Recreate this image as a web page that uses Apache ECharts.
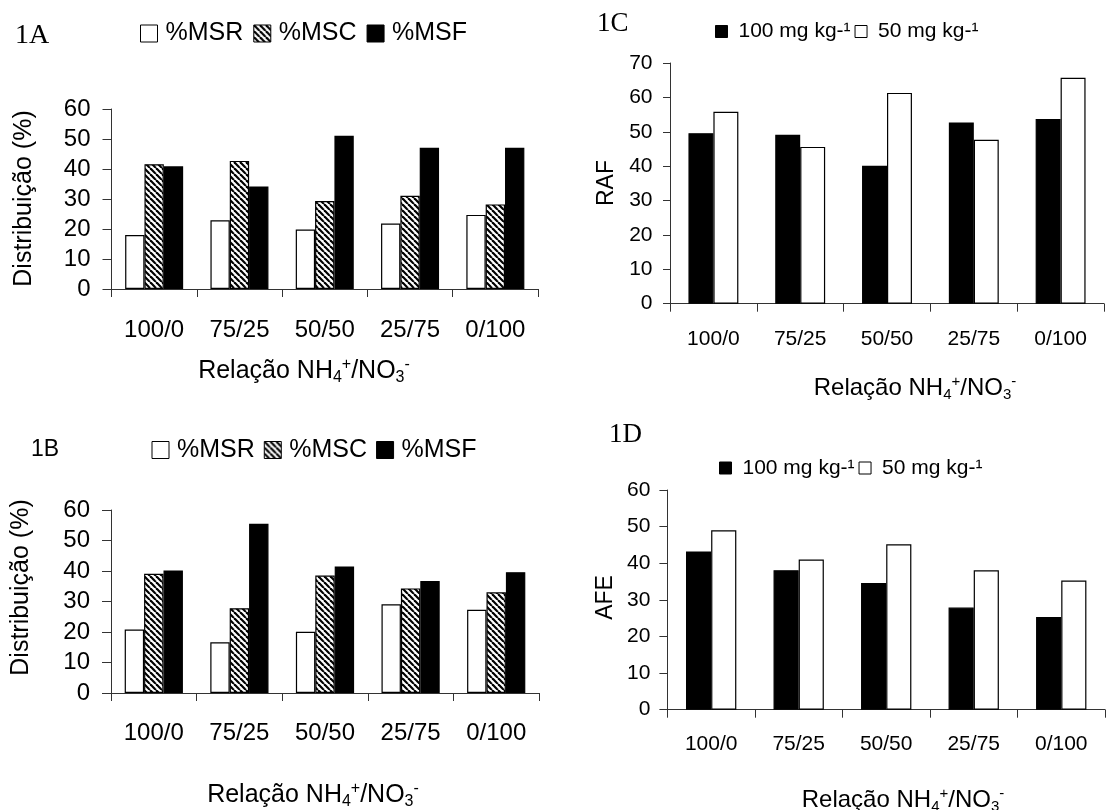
<!DOCTYPE html>
<html><head><meta charset="utf-8">
<script src="https://cdn.jsdelivr.net/npm/echarts@6/dist/echarts.min.js"></script>
<style>html,body{margin:0;padding:0;background:#fff}#c{width:1106px;height:810px}</style>
</head><body><div id="c"></div>
<script>
// ---- data ----
const categories = ['100/0', '75/25', '50/50', '25/75', '0/100'];
const seriesNamesAB = ['%MSR', '%MSC', '%MSF'];
const seriesNamesCD = ['100 mg kg-¹', '50 mg kg-¹'];
const aMSR = [18.0, 22.9, 19.8, 21.8, 24.7];
const aMSC = [41.6, 42.7, 29.3, 31.1, 28.2];
const aMSF = [40.9, 34.2, 51.1, 47.1, 47.1];
const bMSR = [20.8, 16.6, 20.1, 29.1, 27.3];
const bMSC = [39.1, 27.8, 38.5, 34.3, 33.0];
const bMSF = [40.2, 55.5, 41.5, 36.7, 39.6];
const cRAF100 = [49.6, 49.1, 40.1, 52.7, 53.7];
const cRAF50 = [55.8, 45.6, 61.3, 47.7, 65.7];
const dAFE100 = [43.2, 38.1, 34.6, 27.9, 25.3];
const dAFE50 = [49.0, 41.0, 45.2, 38.1, 35.3];
const yMaxAB = 60, yMaxC = 70, yMaxD = 60, yStep = 10;

// ---- styles ----
const SANS = 'Liberation Sans, Arial, sans-serif';
const SERIF = 'Liberation Serif, Times New Roman, serif';
const AX = '#333';

function hatch() {
  const s = 6, c = document.createElement('canvas');
  c.width = s; c.height = s;
  const g = c.getContext('2d');
  g.fillStyle = '#fff'; g.fillRect(0, 0, s, s);
  g.strokeStyle = '#000'; g.lineWidth = 2.2;
  for (let k = -1; k <= 1; k++) { g.beginPath(); g.moveTo(k * s, 0); g.lineTo(k * s + s, s); g.stroke(); }
  return c;
}
const hatchFill = { image: hatch(), repeat: 'repeat' };
const fills = { '%MSR': '#fff', '%MSC': hatchFill, '%MSF': '#000', '100 mg kg-¹': '#000', '50 mg kg-¹': '#fff' };

const grids = [
  { left: 111.5, top: 109, width: 426.5, height: 180 },
  { left: 111, top: 510, width: 428, height: 183 },
  { left: 670, top: 63, width: 434, height: 240.7 },
  { left: 667.4, top: 490, width: 437.6, height: 219.7 }
];
const fsTick = [24, 24, 21, 21];
const xMargin = [29, 28, 25.5, 24.5];
const yMargin = [21, 21, 17.5, 17];
const yTickLen = [9, 9, 7, 8];
const yMaxes = [yMaxAB, yMaxAB, yMaxC, yMaxD];

const xAxis = grids.map((g, i) => ({
  type: 'category', gridIndex: i, data: categories,
  axisLine: { show: true, lineStyle: { color: AX, width: 1 } },
  axisTick: { show: true, length: 8, alignWithLabel: false, lineStyle: { color: AX } },
  axisLabel: { fontFamily: SANS, fontSize: fsTick[i], color: '#000', margin: xMargin[i], interval: 0 },
  splitLine: { show: false }
}));
const yAxis = grids.map((g, i) => ({
  type: 'value', gridIndex: i, min: 0, max: yMaxes[i], interval: yStep,
  axisLine: { show: true, lineStyle: { color: AX, width: 1 } },
  axisTick: { show: true, length: yTickLen[i], lineStyle: { color: AX } },
  axisLabel: { fontFamily: SANS, fontSize: fsTick[i], color: '#000', margin: yMargin[i] },
  splitLine: { show: false }
}));

function bar(name, data, idx, gap) {
  return {
    type: 'bar', name, data, xAxisIndex: idx, yAxisIndex: idx,
    barGap: '0%', barCategoryGap: gap,
    itemStyle: { color: fills[name], borderColor: '#000', borderWidth: 1.2 },
    emphasis: { disabled: true }
  };
}
const series = [
  bar('%MSR', aMSR, 0, '32%'), bar('%MSC', aMSC, 0, '32%'), bar('%MSF', aMSF, 0, '32%'),
  bar('%MSR', bMSR, 1, '32%'), bar('%MSC', bMSC, 1, '32%'), bar('%MSF', bMSF, 1, '32%'),
  bar('100 mg kg-¹', cRAF100, 2, '42.5%'), bar('50 mg kg-¹', cRAF50, 2, '42.5%'),
  bar('100 mg kg-¹', dAFE100, 3, '42.5%'), bar('50 mg kg-¹', dAFE50, 3, '42.5%')
];

function legend(names, left, top, size, fs, gap, pad) {
  return {
    data: names, left, top, orient: 'horizontal', icon: 'rect', padding: 0,
    itemWidth: size, itemHeight: size, itemGap: gap, selectedMode: false,
    itemStyle: { borderColor: '#000', borderWidth: 1 },
    textStyle: { fontFamily: SANS, fontSize: fs, color: '#000', padding: [0, 0, 0, pad] }
  };
}
const legends = [
  legend(seriesNamesAB, 140, 21, 17, 25, 10, 3),
  legend(seriesNamesAB, 151.5, 437.5, 17, 25, 9, 3),
  legend(seriesNamesCD, 715, 21, 12, 21, 4, 6),
  legend(seriesNamesCD, 719, 457.5, 12, 21, 4, 6)
];

function xTitle(cx, cy, fs) {
  const sub = Math.round(fs * 0.62);
  return {
    type: 'text', x: cx, y: cy,
    style: {
      text: '{n|Relação NH}{sb|4}{sp|+}{n|/NO}{sb|3}{sp|-}',
      align: 'center', verticalAlign: 'middle',
      rich: {
        n: { fontFamily: SANS, fontSize: fs, fill: '#000' },
        sb: { fontFamily: SANS, fontSize: sub, fill: '#000', padding: [fs * 0.55, 0, 0, 0] },
        sp: { fontFamily: SANS, fontSize: sub, fill: '#000', padding: [0, 0, fs * 0.55, 0] }
      }
    }
  };
}
function yTitle(text, cx, cy, fs) {
  return {
    type: 'text', x: cx, y: cy, rotation: Math.PI / 2,
    style: { text, fontFamily: SANS, fontSize: fs, fill: '#000', align: 'center', verticalAlign: 'middle' }
  };
}
function panelLabel(text, x, cy, fs, fam) {
  return {
    type: 'text', x, y: cy,
    style: { text, fontFamily: fam, fontSize: fs, fill: '#000', align: 'left', verticalAlign: 'middle' }
  };
}

const graphic = [
  panelLabel('1A', 15, 36, 28, SERIF),
  panelLabel('1B', 31, 450, 23, SANS),
  panelLabel('1C', 597, 24, 27, SERIF),
  panelLabel('1D', 609, 435, 27, SERIF),
  xTitle(304, 371, 25), xTitle(313, 795, 25), xTitle(915, 388, 24), xTitle(903, 800, 24),
  yTitle('Distribuição (%)', 24, 198.5, 25), yTitle('Distribuição (%)', 21, 587.5, 25),
  yTitle('RAF', 607, 183, 23), yTitle('AFE', 606, 597.5, 23)
];

const chart = echarts.init(document.getElementById('c'), null, { renderer: 'canvas' });
chart.setOption({
  animation: false, backgroundColor: '#fff',
  grid: grids, xAxis, yAxis, series, legend: legends, graphic
});
</script>
</body></html>
